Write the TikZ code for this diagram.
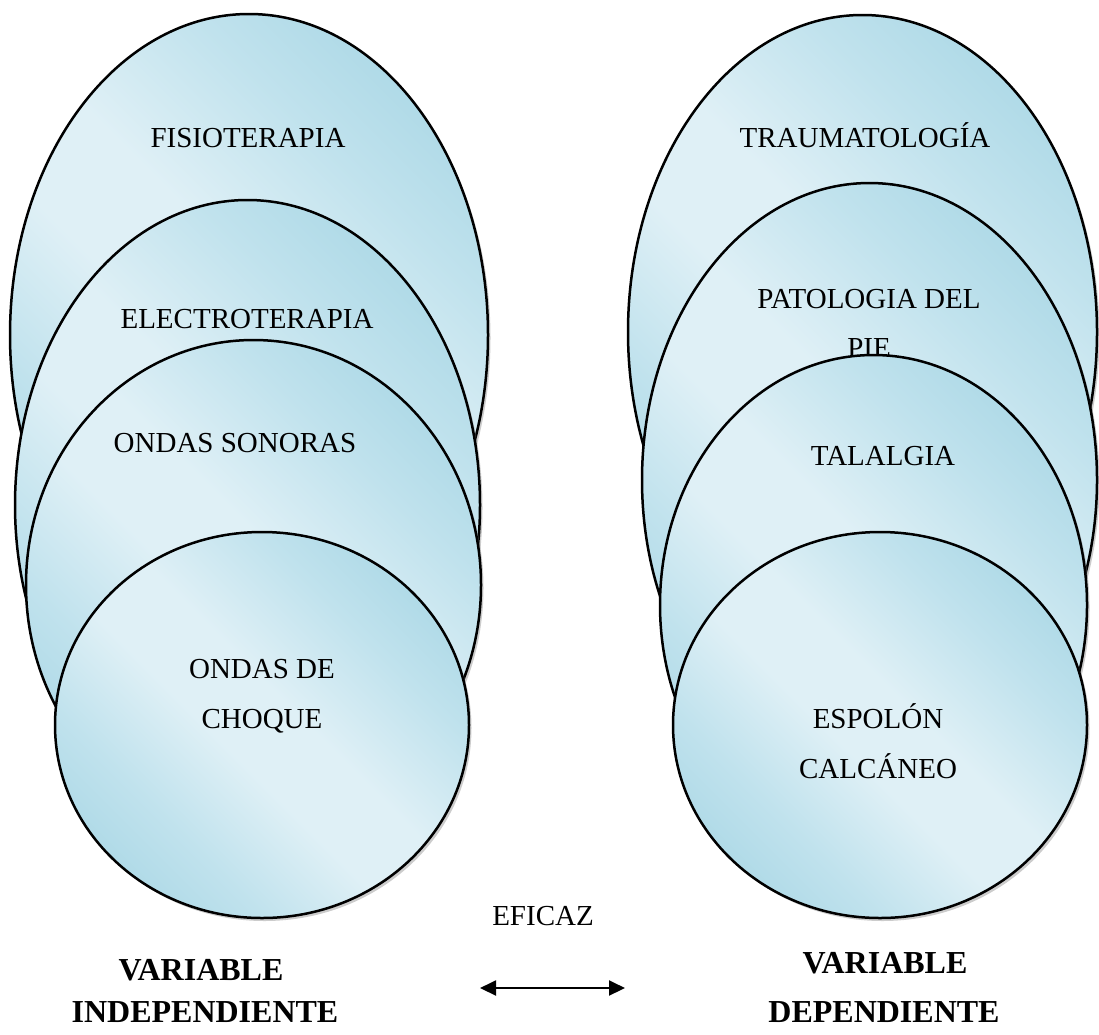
\documentclass[tikz,border=0pt]{standalone}
\usepackage{fontspec}
\setmainfont{Liberation Serif}
\usetikzlibrary{shapes.geometric,shadows,arrows.meta}
\definecolor{bluedark}{RGB}{163,212,227}
\definecolor{bluemid}{RGB}{192,226,237}
\definecolor{bluelight}{RGB}{223,240,246}
\pgfdeclarehorizontalshading{bubbleshade}{100bp}{color(0bp)=(bluedark); color(18bp)=(bluedark); color(33bp)=(bluemid); color(45bp)=(bluelight); color(54bp)=(bluelight); color(67bp)=(bluemid); color(82bp)=(bluedark); color(100bp)=(bluedark)}
\tikzset{
  bubble/.style={ellipse, draw=black, line width=2.5pt, inner sep=0pt,
    shading=bubbleshade, shading angle=45,
    drop shadow={shadow xshift=2.5pt, shadow yshift=-3pt, opacity=0.4, fill=gray}},
  lbl/.style={anchor=base, inner sep=0pt, font=\fontsize{29}{34}\selectfont},
  blbl/.style={anchor=base, inner sep=0pt, font=\fontsize{32}{36}\selectfont\bfseries},
}
\begin{document}
\begin{tikzpicture}[x=1pt,y=-1pt]
\useasboundingbox[fill=white] (0,0) rectangle (1099,1034);
% left group
\node[bubble, minimum width=478pt, minimum height=642pt] (e1) at (249,335) {};
\node[lbl] (t1) at (248,147) {FISIOTERAPIA};
\node[bubble, minimum width=465pt, minimum height=610pt] (e2) at (247.5,505) {};
\node[lbl] (t2) at (247,328) {ELECTROTERAPIA};
\node[bubble, minimum width=455pt, minimum height=490pt] (e3) at (253.5,585) {};
\node[lbl] (t3) at (235,452) {ONDAS SONORAS};
\node[bubble, minimum width=414pt, minimum height=386pt] (e4) at (262,725) {};
\node[lbl] (t4a) at (262,678) {ONDAS DE};
\node[lbl] (t4b) at (262,728) {CHOQUE};
% right group
\node[bubble, minimum width=469pt, minimum height=634pt] (r1) at (862.5,332) {};
\node[lbl] (s1) at (865,147) {TRAUMATOLOGÍA};
\node[bubble, minimum width=455pt, minimum height=594pt] (r2) at (869.5,480) {};
\node[lbl] (s2a) at (869,308) {PATOLOGIA DEL};
\node[lbl] (s2b) at (869,357) {PIE};
\node[bubble, minimum width=427pt, minimum height=500pt] (r3) at (873.5,605) {};
\node[lbl] (s3) at (883,465) {TALALGIA};
\node[bubble, minimum width=414pt, minimum height=386pt] (r4) at (880,725) {};
\node[lbl] (s4a) at (878,728) {ESPOLÓN};
\node[lbl] (s4b) at (878,778) {CALCÁNEO};
% bottom
\node[lbl] (ef) at (543,925) {EFICAZ};
\coordinate (aL) at (480,988);
\coordinate (aR) at (625,988);
\draw[line width=2pt, {Triangle[length=16pt,width=15pt]}-{Triangle[length=16pt,width=15pt]}] (aL) -- (aR);
\node[blbl] (v1a) at (201,980) {VARIABLE};
\node[blbl] (v1b) at (205,1022) {INDEPENDIENTE};
\node[blbl] (v2a) at (885,973) {VARIABLE};
\node[blbl] (v2b) at (884,1022) {DEPENDIENTE};
\end{tikzpicture}
\end{document}
